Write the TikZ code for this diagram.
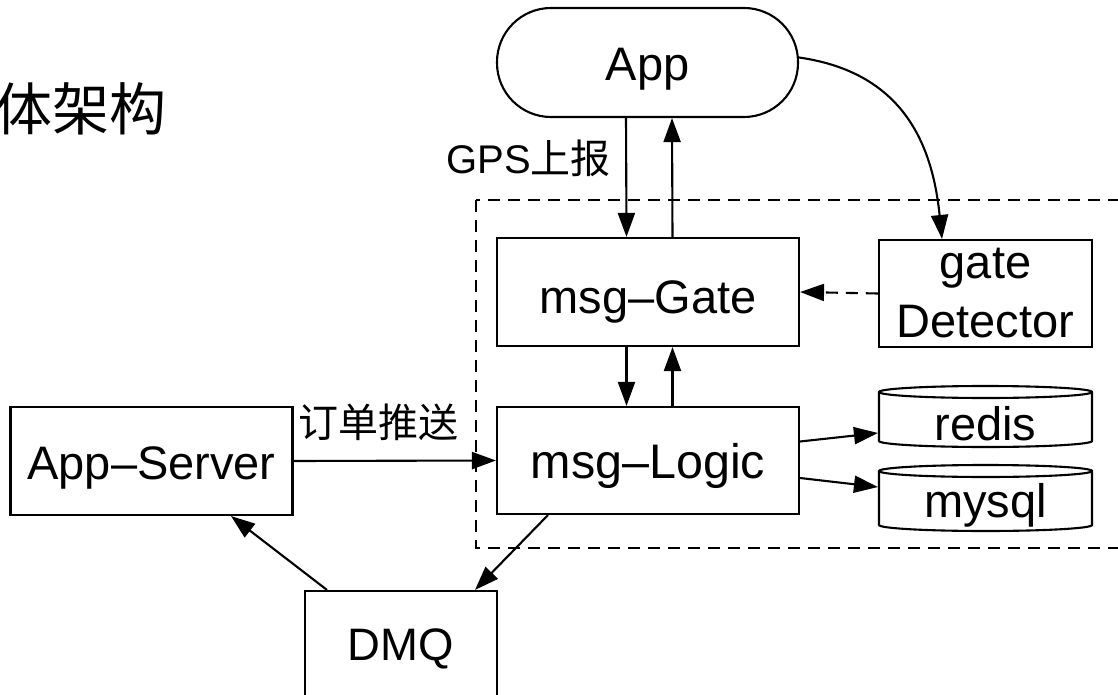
\documentclass[tikz,border=0pt]{standalone}
\usepackage{fontspec}
\setmainfont{Liberation Sans}
\newfontfamily\cjk{Noto Sans CJK SC}
\usetikzlibrary{arrows.meta}
\begin{document}
\begin{tikzpicture}[x=1pt,y=-1pt, line width=2.1pt,
  box/.style={draw, rectangle, inner sep=0pt, text height=38pt, text depth=2pt, font=\fontsize{47}{56}\selectfont},
  plain/.style={rectangle, inner sep=0pt, font=\fontsize{47}{56}\selectfont},
  arr/.style={-{Triangle[length=24pt,width=17pt]}},
  lbl/.style={inner sep=0pt, font=\fontsize{40}{48}\selectfont},
  grp/.style={dash pattern=on 12pt off 8pt}]
\useasboundingbox (0,0) rectangle (1118,695);
\clip (0,0) rectangle (1118,695);
% title
\node[inner sep=0pt, anchor=east, font=\cjk\fontsize{57}{60}\selectfont] (title) at (168,109) {整体架构};
% group
\draw[grp] (476,200) rectangle (1140,548);
% nodes
\node[box, rounded corners=54pt, minimum width=301pt, minimum height=109pt] (app) at (647.5,62.5) {App};
\node[box, text height=44pt, minimum width=302pt, minimum height=108pt] (gate) at (648,292) {msg–Gate};
\node[box, minimum width=302pt, minimum height=107pt, font=\fontsize{48.5}{56}\selectfont] (logic) at (648,460.5) {msg–Logic};
\node[draw, rectangle, inner sep=0pt, minimum width=213pt, minimum height=107pt, align=center, font=\fontsize{47}{59}\selectfont] (det) at (985.5,293.5) {gate\\Detector};
\node[box, minimum width=282pt, minimum height=108pt] (server) at (151.5,461) {App–Server};
\node[box, text height=28pt, minimum width=192pt, minimum height=112pt, font=\fontsize{45.5}{56}\selectfont] (dmq) at (401,647) {DMQ};
% cylinders
\draw (879,392) -- (879,441) arc[start angle=180,end angle=360,x radius=106.5pt,y radius=6pt] -- (1092,392) arc[start angle=0,end angle=180,x radius=106.5pt,y radius=6pt] -- cycle;
\draw (879,392) arc[start angle=180,end angle=360,x radius=106.5pt,y radius=6pt];
\draw (879,471) -- (879,525) arc[start angle=180,end angle=360,x radius=106.5pt,y radius=6pt] -- (1092,471) arc[start angle=0,end angle=180,x radius=106.5pt,y radius=6pt] -- cycle;
\draw (879,471) arc[start angle=180,end angle=360,x radius=106.5pt,y radius=6pt];
\node[plain, text height=44pt, text depth=2pt, minimum width=213pt, minimum height=55pt] (redis) at (985.5,419) {redis};
\node[plain, text height=34pt, text depth=2pt, minimum width=213pt, minimum height=60pt] (mysql) at (985.5,501) {mysql};
% labels
\node[lbl, anchor=east] (gps) at (612,158) {GPS{\cjk 上报}};
\node[lbl, font=\cjk\fontsize{40}{48}\selectfont] (order) at (378,422) {订单推送};
% connectors
\draw[arr] ([xshift=-21.5pt]app.south) -- ([xshift=-21.5pt]gate.north);
\draw[arr] ([xshift=24.5pt]gate.north) -- ([xshift=24.5pt]app.south);
\draw[arr] ([xshift=-21.5pt]gate.south) -- ([xshift=-21.5pt]logic.north);
\draw[arr] ([xshift=24.5pt]logic.north) -- ([xshift=24.5pt]gate.south);
\draw[arr, grp] (det.west) -- (gate.east);
\draw[arr] ([yshift=19pt]logic.east) -- ([yshift=-14pt]redis.west);
\draw[arr] ([yshift=-17.5pt]logic.east) -- ([yshift=14pt]mysql.west);
\draw[arr] (server.east) -- (logic.west);
\draw[arr] ([xshift=-100pt]logic.south) -- ([xshift=74pt]dmq.north);
\draw[arr] ([xshift=-74pt]dmq.north) -- ([xshift=79.5pt]server.south);
\draw[arr] ([yshift=5pt]app.east) .. controls (900,72) and (932,140) .. ([xshift=-43.5pt]det.north);
\end{tikzpicture}
\end{document}
